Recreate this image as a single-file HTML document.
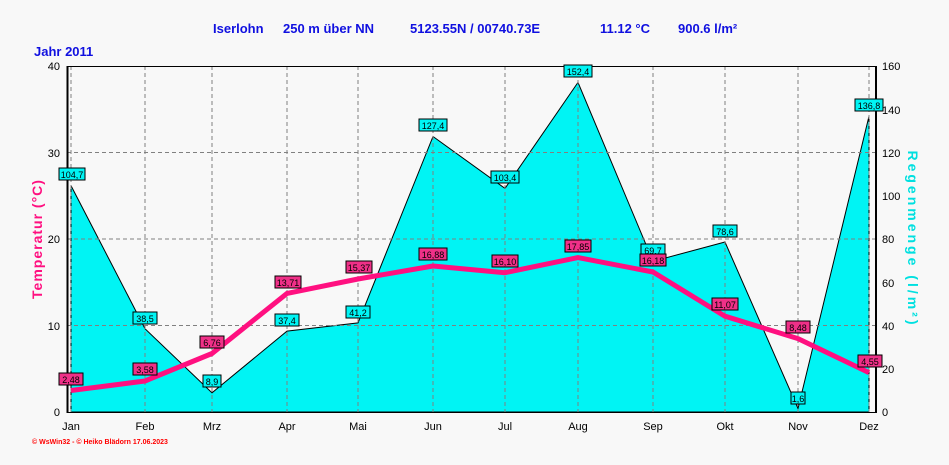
<!DOCTYPE html>
<html><head><meta charset="utf-8"><style>
body{margin:0;background:#f8f8f8;}
svg{display:block;font-family:"Liberation Sans",sans-serif;}
.t{font-size:11px;fill:#000}
.lb{font-size:9px;fill:#000}
.h{font-size:13px;font-weight:bold;fill:#1010e0}
</style></head><body>
<svg width="949" height="465" viewBox="0 0 949 465">
<rect width="949" height="465" fill="#f8f8f8"/>
<text class="h" x="213" y="33">Iserlohn</text>
<text class="h" x="283" y="33">250 m über NN</text>
<text class="h" x="410" y="33">5123.55N / 00740.73E</text>
<text class="h" x="600" y="33">11.12 °C</text>
<text class="h" x="678" y="33">900.6 l/m²</text>
<text class="h" x="34" y="56">Jahr  2011</text>
<!-- rain area -->
<polygon fill="#00f4f4" stroke="#000" stroke-width="1" points="71,412 71,185.6 145,328.7 212,392.8 287,331.1 358,322.9 433,136.5 505,188.4 578,82.4 653,261.3 725,242 798,408.5 869,116.2 869,412"/>
<!-- grid -->
<g stroke="#808080" stroke-dasharray="4,3" stroke-width="1">
<line x1="67" y1="325.5" x2="876" y2="325.5"/><line x1="67" y1="239" x2="876" y2="239"/><line x1="67" y1="152.5" x2="876" y2="152.5"/>
<line x1="71" y1="66" x2="71" y2="412"/><line x1="145" y1="66" x2="145" y2="412"/><line x1="212" y1="66" x2="212" y2="412"/><line x1="287" y1="66" x2="287" y2="412"/><line x1="358" y1="66" x2="358" y2="412"/><line x1="433" y1="66" x2="433" y2="412"/><line x1="505" y1="66" x2="505" y2="412"/><line x1="578" y1="66" x2="578" y2="412"/><line x1="653" y1="66" x2="653" y2="412"/><line x1="725" y1="66" x2="725" y2="412"/><line x1="798" y1="66" x2="798" y2="412"/><line x1="869" y1="66" x2="869" y2="412"/>
</g>
<line x1="67" y1="66.5" x2="876" y2="66.5" stroke="#000"/>
<line x1="67" y1="412.5" x2="876" y2="412.5" stroke="#000"/>
<line x1="67.5" y1="66" x2="67.5" y2="413" stroke="#000" stroke-width="2"/>
<line x1="876" y1="66" x2="876" y2="413" stroke="#000" stroke-width="2"/>
<!-- temp line -->
<polyline fill="none" stroke="#ff1080" stroke-width="5" stroke-linejoin="round" points="71,390.5 145,381 212,353.5 287,293.4 358,279 433,266 505,272.7 578,257.6 653,272 725,316.2 798,338.6 869,372.6"/>
<!-- left ticks -->
<g class="t" text-anchor="end">
<text x="60" y="416">0</text><text x="60" y="330">10</text><text x="60" y="243">20</text><text x="60" y="157">30</text><text x="60" y="70">40</text>
</g>
<g class="t">
<text x="882" y="416">0</text><text x="882" y="373">20</text><text x="882" y="330">40</text><text x="882" y="287">60</text><text x="882" y="243">80</text><text x="882" y="200">100</text><text x="882" y="157">120</text><text x="882" y="114">140</text><text x="882" y="70">160</text>
</g>
<g class="t" text-anchor="middle">
<text x="71" y="430">Jan</text><text x="145" y="430">Feb</text><text x="212" y="430">Mrz</text><text x="287" y="430">Apr</text><text x="358" y="430">Mai</text><text x="433" y="430">Jun</text><text x="505" y="430">Jul</text><text x="578" y="430">Aug</text><text x="653" y="430">Sep</text><text x="725" y="430">Okt</text><text x="798" y="430">Nov</text><text x="869" y="430">Dez</text>
</g>
<text x="42" y="239" transform="rotate(-90 42 239)" text-anchor="middle" style="font-size:14px;font-weight:bold;fill:#ff1080;letter-spacing:1px">Temperatur  (°C)</text>
<text x="908" y="239" transform="rotate(90 908 239)" text-anchor="middle" style="font-size:14px;font-weight:bold;fill:#00e0e0;letter-spacing:3px">Regenmenge  (l/m²)</text>
<text x="32" y="444" style="font-size:7px;font-weight:bold;fill:#ff0000">© WsWin32  -  © Heiko Blädorn  17.06.2023</text>
<!-- rain labels -->
<g class="lb" text-anchor="middle">
<g fill="#00f4f4" stroke="#000" stroke-width="1">
<rect x="59" y="168" width="26" height="12"/><rect x="133" y="312" width="24" height="12"/><rect x="203" y="375" width="18" height="12"/><rect x="275" y="314" width="24" height="12"/><rect x="346" y="306" width="24" height="12"/><rect x="419" y="119" width="28" height="12"/><rect x="491" y="171" width="28" height="12"/><rect x="564" y="65" width="28" height="12"/><rect x="641" y="244" width="24" height="12"/><rect x="713" y="225" width="24" height="12"/><rect x="791" y="392" width="14" height="12"/><rect x="855" y="99" width="28" height="12"/>
</g>
<text x="72" y="178">104,7</text><text x="145" y="322">38,5</text><text x="212" y="385">8,9</text><text x="287" y="324">37,4</text><text x="358" y="316">41,2</text><text x="433" y="129">127,4</text><text x="505" y="181">103,4</text><text x="578" y="75">152,4</text><text x="653" y="254">69,7</text><text x="725" y="235">78,6</text><text x="798" y="402">1,6</text><text x="869" y="109">136,8</text>
</g>
<!-- temp labels -->
<g class="lb" text-anchor="middle">
<g fill="#f03088" stroke="#000" stroke-width="1">
<rect x="59" y="373" width="24" height="12"/><rect x="133" y="363" width="24" height="12"/><rect x="200" y="336" width="24" height="12"/><rect x="275" y="276" width="26" height="12"/><rect x="346" y="261" width="26" height="12"/><rect x="419" y="248" width="28" height="12"/><rect x="492" y="255" width="26" height="12"/><rect x="565" y="240" width="26" height="12"/><rect x="640" y="254" width="26" height="12"/><rect x="712" y="298" width="26" height="12"/><rect x="786" y="321" width="24" height="12"/><rect x="858" y="355" width="24" height="12"/>
</g>
<text x="71" y="383">2,48</text><text x="145" y="373">3,58</text><text x="212" y="346">6,76</text><text x="288" y="286">13,71</text><text x="359" y="271">15,37</text><text x="433" y="258">16,88</text><text x="505" y="265">16,10</text><text x="578" y="250">17,85</text><text x="653" y="264">16,18</text><text x="725" y="308">11,07</text><text x="798" y="331">8,48</text><text x="870" y="365">4,55</text>
</g>
</svg>
</body></html>
